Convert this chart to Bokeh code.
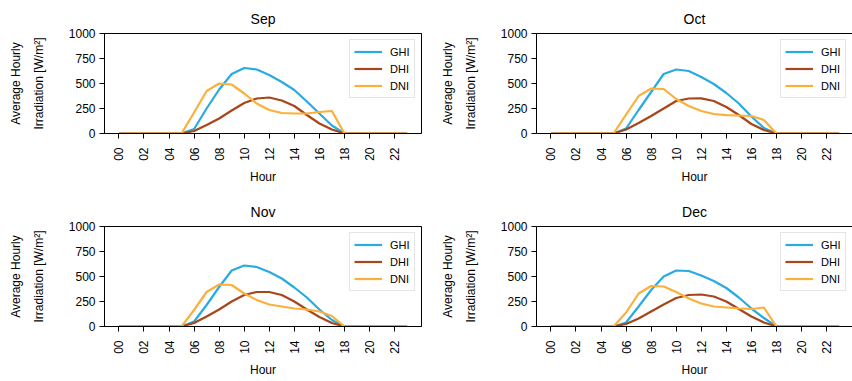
from bokeh.plotting import figure
from bokeh.layouts import column, row
from bokeh.models import Range1d, FixedTicker, LinearAxis, Legend, LegendItem
from bokeh.embed import file_html
from bokeh.resources import INLINE

# Average hourly irradiation (W/m^2), hours 00..23
hours = list(range(24))
months = ["Sep", "Oct", "Nov", "Dec"]

sep_ghi = [0, 0, 0, 0, 0, 0, 45, 250, 440, 595, 655, 640, 585, 515, 435, 320, 200, 80, 0, 0, 0, 0, 0, 0]
sep_dhi = [0, 0, 0, 0, 0, 0, 25, 85, 150, 230, 305, 350, 360, 330, 275, 185, 100, 40, 0, 0, 0, 0, 0, 0]
sep_dni = [0, 0, 0, 0, 0, 0, 210, 425, 500, 490, 400, 300, 235, 205, 200, 200, 215, 225, 0, 0, 0, 0, 0, 0]

oct_ghi = [0, 0, 0, 0, 0, 0, 50, 235, 415, 595, 640, 625, 565, 495, 405, 300, 170, 55, 0, 0, 0, 0, 0, 0]
oct_dhi = [0, 0, 0, 0, 0, 0, 40, 105, 175, 250, 325, 350, 352, 325, 265, 185, 95, 35, 0, 0, 0, 0, 0, 0]
oct_dni = [0, 0, 0, 0, 0, 0, 190, 375, 450, 445, 345, 275, 225, 195, 183, 180, 175, 135, 0, 0, 0, 0, 0, 0]

nov_ghi = [0, 0, 0, 0, 0, 0, 50, 215, 395, 560, 610, 595, 545, 480, 390, 290, 170, 65, 0, 0, 0, 0, 0, 0]
nov_dhi = [0, 0, 0, 0, 0, 0, 35, 100, 170, 250, 315, 345, 345, 315, 250, 170, 95, 35, 0, 0, 0, 0, 0, 0]
nov_dni = [0, 0, 0, 0, 0, 0, 165, 345, 420, 415, 330, 265, 220, 200, 180, 170, 150, 105, 0, 0, 0, 0, 0, 0]

dec_ghi = [0, 0, 0, 0, 0, 0, 40, 200, 365, 500, 560, 555, 510, 455, 385, 290, 180, 85, 0, 0, 0, 0, 0, 0]
dec_dhi = [0, 0, 0, 0, 0, 0, 25, 80, 150, 220, 285, 315, 320, 300, 250, 175, 100, 40, 0, 0, 0, 0, 0, 0]
dec_dni = [0, 0, 0, 0, 0, 0, 140, 330, 405, 400, 345, 280, 230, 200, 190, 180, 175, 190, 0, 0, 0, 0, 0, 0]

series_names = ["GHI", "DHI", "DNI"]
series_colors = ["#29abe2", "#a8461a", "#fbb03b"]
month_data = {
    "Sep": [sep_ghi, sep_dhi, sep_dni],
    "Oct": [oct_ghi, oct_dhi, oct_dni],
    "Nov": [nov_ghi, nov_dhi, nov_dni],
    "Dec": [dec_ghi, dec_dhi, dec_dni],
}

x_ticks = list(range(0, 24, 2))
x_tick_labels = {h: f"{h:02d}" for h in x_ticks}
y_ticks = [0, 250, 500, 750, 1000]

FONT = "Liberation Sans"


def make_panel(month, left_col, top_row):
    width = 430 if left_col else 422
    height = 190 if top_row else 191
    x_end = 24.15 if left_col else 24.07
    p = figure(
        width=width, height=height,
        x_range=Range1d(-1.15, x_end), y_range=Range1d(0, 1000),
        output_backend="svg", toolbar_location=None,
        min_border_left=104 if left_col else 106,
        min_border_right=9 if left_col else 0,
        min_border_top=33 if top_row else 36,
        min_border_bottom=57 if top_row else 55,
        title=month,
    )
    p.title.align = "center"
    p.title.text_font = FONT
    p.title.text_font_size = "14px"
    p.title.text_font_style = "normal"
    p.title.text_color = "black"
    p.title.standoff = 14

    p.xgrid.visible = False
    p.ygrid.visible = False
    p.background_fill_color = "white"
    p.border_fill_color = "white"

    # a bare axis along the top edge draws the frame's upper line
    top_axis = LinearAxis(ticker=FixedTicker(ticks=[]), major_label_text_font_size="0px",
                          major_tick_out=0, major_tick_in=0, minor_tick_out=0, minor_tick_in=0,
                          axis_line_color="black", axis_line_width=1, major_label_standoff=0)
    p.add_layout(top_axis, "above")
    if left_col:
        p.outline_line_color = "black"
        p.outline_line_alpha = 1.0
        p.outline_line_width = 1
    else:
        p.outline_line_color = None

    renderers = []
    for name, color, vals in zip(series_names, series_colors, month_data[month]):
        r = p.line(hours, vals, line_color=color, line_width=2.2)
        renderers.append((name, r))

    xa = p.below[0]
    xa.ticker = FixedTicker(ticks=x_ticks)
    xa.major_label_overrides = x_tick_labels
    xa.major_label_orientation = 3.14159265 / 2
    xa.axis_label = "Hour"

    ya = p.left[0]
    ya.ticker = FixedTicker(ticks=y_ticks)
    ya.axis_label = "Average Hourly\nIrradiation [W/m\u00b2]"
    ya.axis_label_text_line_height = 1.6

    for ax in (xa, ya):
        ax.axis_line_color = "black"
        ax.axis_line_width = 1
        ax.major_tick_line_color = "black"
        ax.major_tick_out = 5
        ax.major_tick_in = 0
        ax.minor_tick_line_color = None
        ax.major_label_text_font = FONT
        ax.major_label_text_font_size = "12px"
        ax.major_label_text_color = "black"
        ax.axis_label_text_font = FONT
        ax.axis_label_text_font_size = "12px"
        ax.axis_label_text_font_style = "normal"
        ax.axis_label_text_color = "black"
    xa.major_label_standoff = 9
    ya.major_label_standoff = 4
    xa.axis_label_standoff = 6
    ya.axis_label_standoff = 20

    legend = Legend(
        items=[LegendItem(label=n, renderers=[r]) for n, r in renderers],
        location="top_right",
        margin=6, padding=4, spacing=2,
        glyph_width=28, glyph_height=15, label_height=15,
        label_standoff=8,
        label_text_font=FONT, label_text_font_size="11px", label_text_color="black",
        border_line_color="#cccccc", border_line_width=1,
        background_fill_color="white", background_fill_alpha=0.8,
    )
    p.add_layout(legend)
    return p


p_sep = make_panel("Sep", True, True)
p_oct = make_panel("Oct", False, True)
p_nov = make_panel("Nov", True, False)
p_dec = make_panel("Dec", False, False)

layout = column(row(p_sep, p_oct, spacing=0), row(p_nov, p_dec, spacing=0), spacing=0)

open("out.html", "w").write(file_html(layout, INLINE))
